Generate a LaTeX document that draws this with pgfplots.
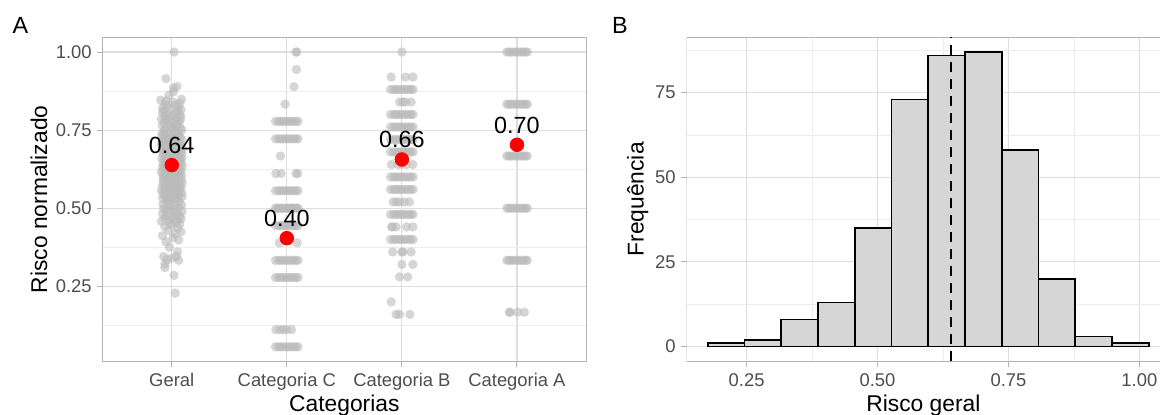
\documentclass[border=0pt]{standalone}
\usepackage{pgfplots}
\pgfplotsset{compat=1.18}
\usepackage{pgfplotstable}
\usepackage{fontspec}
\setmainfont{Liberation Sans}
\definecolor{ptgray}{HTML}{BABABA}
\definecolor{gridc}{HTML}{DEDEDE}
\definecolor{gridminor}{HTML}{EDEDED}
\definecolor{borderc}{HTML}{B3B3B3}
\definecolor{tickc}{HTML}{4D4D4D}
\definecolor{barfill}{HTML}{D6D6D6}

\pgfplotstableread[row sep=\\]{
x y\\
1.030 0.228\\ 1.020 0.285\\ 0.940 0.310\\
0.940 0.322\\ 0.960 0.335\\ 0.930 0.345\\ 1.000 0.340\\ 1.040 0.345\\ 1.060 0.333\\ 1.050 0.360\\ 0.980 0.375\\
0.950 0.392\\ 1.060 0.398\\ 1.010 0.405\\ 0.920 0.412\\ 1.030 0.418\\ 1.080 0.424\\ 0.970 0.429\\ 1.050 0.436\\ 0.940 0.441\\ 1.000 0.446\\ 1.070 0.449\\ 0.980 0.452\\ 1.040 0.455\\
0.910 0.458\\ 1.040 0.461\\ 0.980 0.463\\ 1.080 0.466\\ 0.940 0.469\\ 1.010 0.471\\ 1.070 0.474\\ 0.960 0.477\\ 1.030 0.480\\ 0.920 0.482\\
1.050 0.485\\ 0.990 0.488\\ 1.090 0.490\\ 0.950 0.493\\ 1.020 0.496\\ 0.930 0.499\\ 1.060 0.501\\ 0.970 0.504\\ 1.000 0.507\\ 1.085 0.510\\
0.925 0.512\\ 1.035 0.515\\ 0.985 0.518\\ 1.065 0.521\\ 0.955 0.524\\
0.960 0.528\\ 1.030 0.530\\ 0.920 0.532\\ 1.050 0.533\\ 0.990 0.535\\ 1.090 0.537\\ 0.950 0.538\\ 1.020 0.540\\ 0.930 0.542\\ 1.060 0.543\\
0.970 0.545\\ 1.000 0.547\\ 1.085 0.549\\ 0.925 0.550\\ 1.035 0.552\\ 0.985 0.554\\ 1.065 0.555\\ 0.955 0.557\\ 0.910 0.559\\ 1.040 0.560\\
0.980 0.562\\ 1.080 0.564\\ 0.940 0.566\\ 1.010 0.567\\ 1.070 0.569\\ 0.960 0.571\\ 1.030 0.572\\ 0.920 0.574\\ 1.050 0.576\\ 0.990 0.577\\
1.090 0.579\\ 0.950 0.581\\ 1.020 0.583\\ 0.930 0.584\\ 1.060 0.586\\ 0.970 0.588\\ 1.000 0.589\\ 1.085 0.591\\ 0.925 0.593\\ 1.035 0.595\\
0.950 0.597\\ 1.020 0.599\\ 0.930 0.600\\ 1.060 0.602\\ 0.970 0.603\\ 1.000 0.605\\ 1.085 0.606\\ 0.925 0.608\\ 1.035 0.609\\ 0.985 0.611\\
1.065 0.613\\ 0.955 0.614\\ 0.910 0.616\\ 1.040 0.617\\ 0.980 0.619\\ 1.080 0.620\\ 0.940 0.622\\ 1.010 0.623\\ 1.070 0.625\\ 0.960 0.626\\
1.030 0.628\\ 0.920 0.630\\ 1.050 0.631\\ 0.990 0.633\\ 1.090 0.634\\ 0.950 0.636\\ 1.020 0.637\\ 0.930 0.639\\ 1.060 0.640\\ 0.970 0.642\\
1.000 0.643\\ 1.085 0.645\\ 0.925 0.647\\ 1.035 0.648\\ 0.985 0.650\\ 1.065 0.651\\ 0.955 0.653\\ 0.945 0.654\\ 1.075 0.656\\ 0.995 0.657\\
1.045 0.659\\ 0.915 0.660\\ 1.088 0.662\\ 1.005 0.664\\ 0.965 0.665\\
0.955 0.667\\ 1.065 0.669\\ 0.985 0.670\\ 1.035 0.672\\ 0.925 0.673\\ 1.085 0.675\\ 1.000 0.676\\ 0.970 0.678\\ 1.060 0.679\\ 0.930 0.681\\
1.020 0.683\\ 0.950 0.684\\ 1.090 0.686\\ 0.990 0.687\\ 1.050 0.689\\ 0.920 0.690\\ 1.030 0.692\\ 0.960 0.693\\ 1.070 0.695\\ 1.010 0.696\\
0.940 0.698\\ 1.080 0.700\\ 0.980 0.701\\ 1.040 0.703\\ 0.910 0.704\\ 0.945 0.706\\ 1.075 0.707\\ 0.995 0.709\\ 1.045 0.710\\ 0.915 0.712\\
1.055 0.713\\ 0.975 0.715\\ 1.025 0.717\\ 0.935 0.718\\ 1.088 0.720\\ 1.005 0.721\\ 0.965 0.723\\ 1.015 0.724\\ 0.948 0.726\\ 1.072 0.727\\
0.918 0.729\\ 1.042 0.730\\ 0.988 0.732\\ 1.058 0.734\\ 0.932 0.735\\
0.915 0.739\\ 1.055 0.741\\ 0.975 0.743\\ 1.025 0.746\\ 0.935 0.748\\ 1.088 0.750\\ 1.005 0.753\\ 0.945 0.755\\ 1.075 0.757\\ 0.995 0.760\\
1.045 0.762\\ 0.918 0.764\\ 1.042 0.767\\ 0.965 0.769\\ 1.015 0.771\\ 0.932 0.774\\ 1.058 0.776\\ 0.988 0.778\\ 1.072 0.781\\ 0.948 0.783\\
0.910 0.785\\ 1.040 0.788\\ 0.980 0.790\\ 1.080 0.792\\ 0.940 0.795\\ 1.010 0.797\\ 1.070 0.799\\ 0.960 0.802\\ 1.030 0.804\\ 0.920 0.806\\
1.050 0.809\\ 0.930 0.812\\ 1.080 0.815\\ 0.990 0.818\\ 0.920 0.821\\ 1.060 0.824\\ 0.960 0.827\\ 1.030 0.830\\ 0.940 0.833\\ 1.070 0.836\\
1.010 0.840\\ 0.950 0.844\\ 1.085 0.849\\ 0.905 0.846\\ 0.975 0.862\\ 1.015 0.872\\
0.950 0.915\\ 1.015 0.885\\ 1.045 0.890\\
1.020 1.000\\
}\geral

\pgfplotstableread[row sep=\\]{
x y\\
1.902 0.778\\ 1.929 0.778\\ 1.948 0.778\\ 1.970 0.778\\ 1.992 0.778\\ 2.013 0.778\\ 2.036 0.778\\ 2.058 0.778\\ 2.079 0.778\\ 2.097 0.778\\
1.902 0.722\\ 1.929 0.722\\ 1.948 0.722\\ 1.970 0.722\\ 1.992 0.722\\ 2.013 0.722\\ 2.036 0.722\\ 2.058 0.722\\ 2.079 0.722\\ 2.097 0.722\\
1.902 0.556\\ 1.929 0.556\\ 1.948 0.556\\ 1.970 0.556\\ 1.992 0.556\\ 2.013 0.556\\ 2.036 0.556\\ 2.058 0.556\\ 2.079 0.556\\ 2.097 0.556\\
1.902 0.500\\ 1.929 0.500\\ 1.948 0.500\\ 1.970 0.500\\ 1.992 0.500\\ 2.013 0.500\\ 2.036 0.500\\ 2.058 0.500\\ 2.079 0.500\\ 2.097 0.500\\
1.915 0.500\\ 1.960 0.500\\ 2.003 0.500\\ 2.046 0.500\\ 2.088 0.500\\
1.902 0.444\\ 1.929 0.444\\ 1.948 0.444\\ 1.970 0.444\\ 1.992 0.444\\ 2.013 0.444\\ 2.036 0.444\\ 2.058 0.444\\ 2.079 0.444\\ 2.097 0.444\\
1.902 0.333\\ 1.929 0.333\\ 1.948 0.333\\ 1.970 0.333\\ 1.992 0.333\\ 2.013 0.333\\ 2.036 0.333\\ 2.058 0.333\\ 2.079 0.333\\ 2.097 0.333\\
1.902 0.278\\ 1.929 0.278\\ 1.948 0.278\\ 1.970 0.278\\ 1.992 0.278\\ 2.013 0.278\\ 2.036 0.278\\ 2.058 0.278\\ 2.079 0.278\\ 2.097 0.278\\
1.902 0.056\\ 1.929 0.056\\ 1.948 0.056\\ 1.970 0.056\\ 1.992 0.056\\ 2.013 0.056\\ 2.036 0.056\\ 2.058 0.056\\ 2.079 0.056\\ 2.097 0.056\\
2.080 1.000\\ 2.086 1.000\\ 2.084 0.944\\ 2.062 0.889\\ 1.985 0.833\\ 1.945 0.667\\
1.905 0.611\\ 1.950 0.611\\ 2.080 0.611\\ 2.095 0.611\\ 1.935 0.389\\ 2.090 0.389\\
1.905 0.111\\ 1.940 0.111\\ 1.970 0.111\\ 2.000 0.111\\ 2.040 0.111\\
}\catC

\pgfplotstableread[row sep=\\]{
x y\\
2.902 0.88\\ 2.929 0.88\\ 2.948 0.88\\ 2.970 0.88\\ 2.992 0.88\\ 3.013 0.88\\ 3.036 0.88\\ 3.058 0.88\\ 3.079 0.88\\ 3.097 0.88\\
2.902 0.80\\ 2.929 0.80\\ 2.948 0.80\\ 2.970 0.80\\ 2.992 0.80\\ 3.013 0.80\\ 3.036 0.80\\ 3.058 0.80\\ 3.079 0.80\\ 3.097 0.80\\
2.902 0.76\\ 2.929 0.76\\ 2.948 0.76\\ 2.970 0.76\\ 2.992 0.76\\ 3.013 0.76\\ 3.036 0.76\\ 3.058 0.76\\ 3.079 0.76\\ 3.097 0.76\\
2.902 0.72\\ 2.929 0.72\\ 2.948 0.72\\ 2.970 0.72\\ 2.992 0.72\\ 3.013 0.72\\ 3.036 0.72\\ 3.058 0.72\\ 3.079 0.72\\ 3.097 0.72\\
2.902 0.68\\ 2.929 0.68\\ 2.948 0.68\\ 2.970 0.68\\ 2.992 0.68\\ 3.013 0.68\\ 3.036 0.68\\ 3.058 0.68\\ 3.079 0.68\\ 3.097 0.68\\
2.902 0.60\\ 2.929 0.60\\ 2.948 0.60\\ 2.970 0.60\\ 2.992 0.60\\ 3.013 0.60\\ 3.036 0.60\\ 3.058 0.60\\ 3.079 0.60\\ 3.097 0.60\\
2.902 0.56\\ 2.929 0.56\\ 2.948 0.56\\ 2.970 0.56\\ 2.992 0.56\\ 3.013 0.56\\ 3.036 0.56\\ 3.058 0.56\\ 3.079 0.56\\ 3.097 0.56\\
2.902 0.48\\ 2.929 0.48\\ 2.948 0.48\\ 2.970 0.48\\ 2.992 0.48\\ 3.013 0.48\\ 3.036 0.48\\ 3.058 0.48\\ 3.079 0.48\\ 3.097 0.48\\
2.902 0.40\\ 2.929 0.40\\ 2.948 0.40\\ 2.970 0.40\\ 2.992 0.40\\ 3.013 0.40\\ 3.036 0.40\\ 3.058 0.40\\ 3.079 0.40\\ 3.097 0.40\\
3.000 1.00\\ 2.907 0.92\\ 3.030 0.92\\ 3.096 0.92\\
2.980 0.84\\ 3.010 0.84\\ 3.030 0.84\\ 3.080 0.84\\
2.910 0.64\\ 2.970 0.64\\ 3.000 0.64\\ 3.040 0.64\\ 3.095 0.64\\
2.925 0.52\\ 2.950 0.52\\ 2.980 0.52\\ 3.020 0.52\\ 3.065 0.52\\
2.910 0.44\\ 2.920 0.44\\ 2.950 0.44\\ 3.040 0.44\\ 3.095 0.44\\
2.920 0.36\\ 3.000 0.36\\ 3.010 0.36\\ 3.080 0.36\\
3.000 0.32\\ 3.095 0.32\\ 2.980 0.28\\ 3.050 0.28\\
2.907 0.20\\ 2.950 0.16\\ 2.980 0.16\\ 3.070 0.16\\
}\catB

\pgfplotstableread[row sep=\\]{
x y\\
3.912 1.000\\ 3.930 1.000\\ 3.948 1.000\\ 3.970 1.000\\ 3.992 1.000\\ 4.013 1.000\\ 4.036 1.000\\ 4.058 1.000\\ 4.076 1.000\\ 4.090 1.000\\
3.912 0.833\\ 3.930 0.833\\ 3.948 0.833\\ 3.970 0.833\\ 3.992 0.833\\ 4.013 0.833\\ 4.036 0.833\\ 4.058 0.833\\ 4.076 0.833\\ 4.090 0.833\\
3.912 0.667\\ 3.930 0.667\\ 3.948 0.667\\ 3.970 0.667\\ 3.992 0.667\\ 4.013 0.667\\ 4.036 0.667\\ 4.058 0.667\\ 4.076 0.667\\ 4.090 0.667\\
3.912 0.500\\ 3.930 0.500\\ 3.948 0.500\\ 3.970 0.500\\ 3.992 0.500\\ 4.013 0.500\\ 4.036 0.500\\ 4.058 0.500\\ 4.076 0.500\\ 4.090 0.500\\
3.912 0.333\\ 3.930 0.333\\ 3.948 0.333\\ 3.970 0.333\\ 3.992 0.333\\ 4.013 0.333\\ 4.036 0.333\\ 4.058 0.333\\ 4.076 0.333\\ 4.090 0.333\\
3.934 0.167\\ 3.940 0.167\\ 4.006 0.167\\ 4.064 0.167\\
}\catA

\pgfplotstableread[row sep=\\]{
x y lab\\
1 0.638 0.64\\
2 0.404 0.40\\
3 0.656 0.66\\
4 0.703 0.70\\
}\means

\pgfplotstableread[row sep=\\]{
x y\\
0.1757 1\\ 0.2459 2\\ 0.3160 8\\ 0.3862 13\\ 0.4564 35\\ 0.5266 73\\ 0.5967 86\\
0.6669 87\\ 0.7371 58\\ 0.8073 20\\ 0.8774 3\\ 0.9476 1\\ 1.0178 1\\
}\hist

\pgfplotsset{
  gg/.style={
    scale only axis, height=162pt,
    grid=both,
    major grid style={draw=gridc, line width=0.55pt},
    minor grid style={draw=gridminor, line width=0.35pt},
    tick align=outside, major tick length=2.7pt, minor tick length=0pt,
    tick style={draw=borderc, line width=0.5pt},
    tick pos=left,
    ticklabel style={font=\fontsize{9.2}{11}\selectfont, text=tickc},
    xticklabel style={inner sep=0pt, yshift=-3.1pt},
    yticklabel style={inner sep=0pt, xshift=-2.65pt},
    every axis x label/.style={at={(rel axis cs:0.5,0)}, anchor=base, yshift=-24.85pt,
      font=\fontsize{11.4}{13.7}\selectfont},
  },
  jit/.style={only marks, mark=*, mark size=2.35pt, color=ptgray,
    mark options={fill=ptgray, draw opacity=0, fill opacity=0.6}},
}

\begin{document}
\begin{tikzpicture}
\useasboundingbox (0,0) rectangle (580pt,207pt);

% Panel A
\begin{axis}[gg, at={(51.35pt,26.35pt)}, anchor=south west, width=241.65pt,
  xmin=0.4, xmax=4.6, ymin=0.0097, ymax=1.0472,
  axis line style={draw=borderc, line width=0.5pt},
  xtick={1,2,3,4}, xticklabels={Geral,Categoria C,Categoria B,Categoria A},
  ytick={0.25,0.5,0.75,1}, yticklabels={0.25,0.50,0.75,1.00},
  minor ytick={0.125,0.375,0.625,0.875},
  xlabel={Categorias}, ylabel={Risco normalizado},
  every axis y label/.style={at={([xshift=-31.9pt]rel axis cs:0,0.5)}, rotate=90, anchor=center,
    font=\fontsize{11.4}{13.7}\selectfont},
]
\addplot[jit] table {\geral};
\addplot[jit] table {\catC};
\addplot[jit] table {\catB};
\addplot[jit] table {\catA};
\addplot[only marks, mark=*, mark size=3.4pt, color=red, mark options={draw=red, fill=red},
  nodes near coords, point meta=explicit symbolic,
  nodes near coords style={anchor=base, yshift=5.8pt, inner sep=0pt, text=black, font=\fontsize{11.7}{14}\selectfont}]
  table[meta=lab] {\means};
\end{axis}

% Panel B
\begin{axis}[gg, at={(343.35pt,26.35pt)}, anchor=south west, width=236.65pt,
  xmin=0.1356, xmax=1.0395, ymin=-4.35, ymax=91.35,
  axis line style={draw=none},
  xtick={0.25,0.5,0.75,1}, xticklabels={0.25,0.50,0.75,1.00},
  minor xtick={0.375,0.625,0.875},
  ytick={0,25,50,75}, yticklabels={0,25,50,75},
  minor ytick={12.5,37.5,62.5,87.5},
  xlabel={Risco geral}, ylabel={Frequência},
  every axis y label/.style={at={([xshift=-24.5pt]rel axis cs:0,0.5)}, rotate=90, anchor=center,
    font=\fontsize{11.4}{13.7}\selectfont},
]
\draw[borderc, line width=0.5pt] (rel axis cs:1.01,1) -- (rel axis cs:0,1) -- (rel axis cs:0,0) -- (rel axis cs:1.01,0);
\addplot[ybar interval, fill=barfill, draw=black, line width=0.9pt] table {\hist};
\addplot[black, line width=1pt, dash pattern=on 5pt off 3.5pt] coordinates {(0.64,-4.35) (0.64,91.35)};
\end{axis}

\node[font=\fontsize{11.7}{14}\selectfont, anchor=center] at (10.2pt,194.5pt) {A};
\node[font=\fontsize{11.7}{14}\selectfont, anchor=center] at (309.9pt,194.5pt) {B};
\end{tikzpicture}
\end{document}
